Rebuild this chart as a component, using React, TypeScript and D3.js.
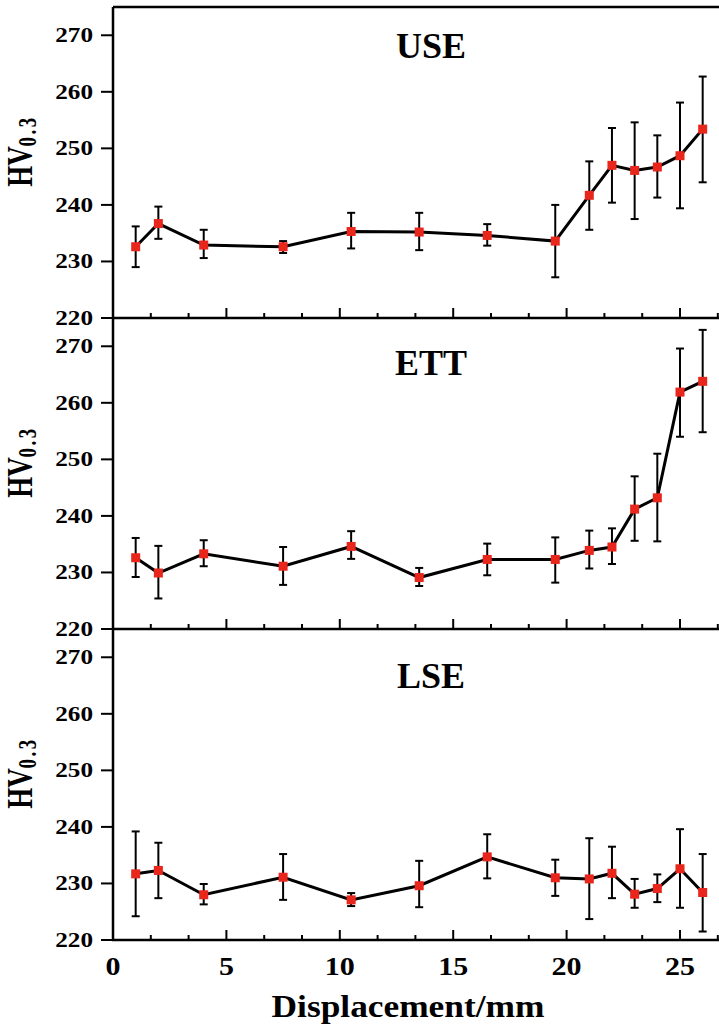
import React from 'react';
import * as d3 from 'd3';

const positions = [1, 2, 4, 7.5, 10.5, 13.5, 16.5, 19.5, 21, 22, 23, 24, 25, 26];

const useMean = [232.6, 236.7, 232.9, 232.6, 235.3, 235.2, 234.6, 233.6, 241.7, 247.0, 246.1, 246.7, 248.7, 253.4];
const useUpper = [236.2, 239.7, 235.6, 233.6, 238.6, 238.6, 236.6, 240.0, 247.7, 253.6, 254.6, 252.3, 258.1, 262.7];
const useLower = [229.0, 234.0, 230.6, 231.5, 232.3, 232.0, 232.8, 227.2, 235.6, 240.4, 237.5, 241.3, 239.4, 244.0];

const ettMean = [232.6, 229.9, 233.3, 231.1, 234.6, 229.1, 232.3, 232.3, 233.9, 234.5, 241.2, 243.2, 261.9, 263.8];
const ettUpper = [236.1, 234.7, 235.7, 234.5, 237.3, 230.8, 235.1, 236.2, 237.4, 237.8, 247.0, 251.0, 269.6, 272.9];
const ettLower = [229.2, 225.4, 231.1, 227.8, 232.4, 227.6, 229.5, 228.2, 230.7, 231.5, 235.6, 235.5, 254.0, 254.8];

const lseMean = [231.7, 232.3, 228.0, 231.1, 227.1, 229.6, 234.7, 231.0, 230.8, 231.8, 228.1, 229.1, 232.6, 228.4];
const lseUpper = [239.2, 237.2, 229.9, 235.2, 228.3, 234.0, 238.7, 234.2, 238.0, 236.5, 230.8, 231.6, 239.6, 235.2];
const lseLower = [224.2, 227.4, 226.3, 227.1, 226.0, 225.8, 230.9, 227.8, 223.7, 227.4, 225.7, 226.7, 225.7, 221.5];

const panelNames = ['USE', 'ETT', 'LSE'];
const yTicks = [220, 230, 240, 250, 260, 270];
const xMajorTicks = [0, 5, 10, 15, 20, 25];
const xMinorTicks = [5 / 3, 10 / 3, 20 / 3, 25 / 3, 35 / 3, 40 / 3, 50 / 3, 55 / 3, 65 / 3, 70 / 3, 80 / 3];
const xTitle = 'Displacement/mm';

const series = [
  { name: panelNames[0], mean: useMean, upper: useUpper, lower: useLower, titleDy: 51 },
  { name: panelNames[1], mean: ettMean, upper: ettUpper, lower: ettLower, titleDy: 57 },
  { name: panelNames[2], mean: lseMean, upper: lseUpper, lower: lseLower, titleDy: 59 },
];

const W = 719;
const H = 1026;
const left = 113;
const unit = 22.68;
const panelTops = [7, 318, 629];
const panelH = 311;
const FONT = "'Liberation Serif', 'Times New Roman', Times, serif";
const RED = '#e8261c';

export default function App() {
  const x = d3.scaleLinear().domain([0, 27]).range([left, left + 27 * unit]);
  const line = d3.line<[number, number]>().x((d) => d[0]).y((d) => d[1]);

  return (
    <svg
      width={W}
      height={H}
      style={{ position: 'absolute', left: 0, top: 0, background: '#fff', fontFamily: FONT, fontWeight: 700 }}
    >
      <rect x={0} y={0} width={W} height={H} fill="#fff" />
      <line x1={left} x2={W + 10} y1={panelTops[0]} y2={panelTops[0]} stroke="#000" strokeWidth={2.5} />
      {series.map((s, pi) => {
        const top = panelTops[pi];
        const bottom = top + panelH;
        const y = d3.scaleLinear().domain([220, 275]).range([bottom, top]);
        const pts: [number, number][] = positions.map((p, i) => [x(p), y(s.mean[i])]);
        const cy = (top + bottom) / 2;
        return (
          <g key={s.name}>
            <line x1={left} x2={left} y1={top} y2={bottom} stroke="#000" strokeWidth={2.5} />
            <line x1={left - 1} x2={W + 10} y1={bottom} y2={bottom} stroke="#000" strokeWidth={2.5} />
            {xMajorTicks.map((t) => (
              <line key={'M' + t} x1={x(t)} x2={x(t)} y1={bottom} y2={bottom - 10} stroke="#000" strokeWidth={2} />
            ))}
            {xMinorTicks.map((t, i) => (
              <line key={'m' + i} x1={x(t)} x2={x(t)} y1={bottom} y2={bottom - 5} stroke="#000" strokeWidth={2} />
            ))}
            {yTicks.map((t) => (
              <g key={'y' + t}>
                <line x1={left - 12} x2={left} y1={y(t)} y2={y(t)} stroke="#000" strokeWidth={2} />
                <g transform={`translate(${left - 20},${y(t) + 7}) scale(1.2,1)`}>
                  <text textAnchor="end" fontSize={21} fill="#000">{t}</text>
                </g>
              </g>
            ))}
            <g transform={`translate(32,${cy - 11.5}) scale(1.3,1) rotate(-90)`}>
              <text textAnchor="middle" fill="#000" fontSize={27}>
                HV<tspan fontSize={19} dy={3} letterSpacing={2.5}>0.3</tspan>
              </text>
            </g>
            <text x={431} y={top + s.titleDy} textAnchor="middle" fontSize={36} fill="#000">
              {s.name}
            </text>
            <path d={line(pts) || ''} fill="none" stroke="#000" strokeWidth={3} />
            {positions.map((p, i) => (
              <g key={'e' + i} stroke="#000" strokeWidth={2}>
                <line x1={x(p)} x2={x(p)} y1={y(s.upper[i])} y2={y(s.lower[i])} />
                <line x1={x(p) - 4} x2={x(p) + 4} y1={y(s.upper[i])} y2={y(s.upper[i])} />
                <line x1={x(p) - 4} x2={x(p) + 4} y1={y(s.lower[i])} y2={y(s.lower[i])} />
              </g>
            ))}
            {positions.map((p, i) => (
              <rect
                key={'r' + i}
                x={x(p) - 4.5}
                y={y(s.mean[i]) - 4.5}
                width={9}
                height={9}
                fill={RED}
              />
            ))}
          </g>
        );
      })}
      {xMajorTicks.map((t) => (
        <g key={'xl' + t} transform={`translate(${x(t)},${panelTops[2] + panelH + 35}) scale(1.2,1)`}>
          <text textAnchor="middle" fontSize={25} fill="#000">{t}</text>
        </g>
      ))}
      <g transform={`translate(408,1017) scale(1.14,1)`}>
        <text textAnchor="middle" fontSize={31} fill="#000">{xTitle}</text>
      </g>
    </svg>
  );
}
